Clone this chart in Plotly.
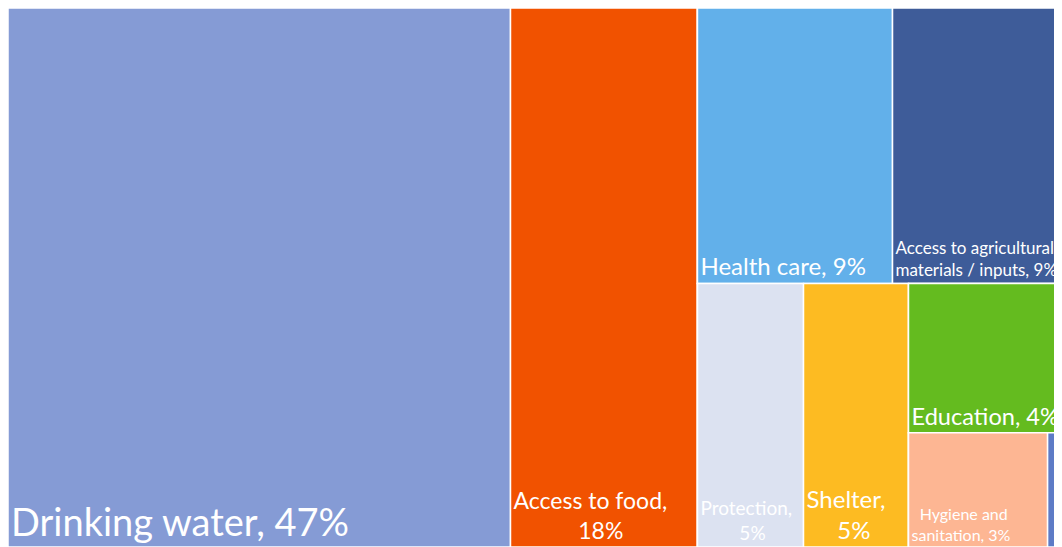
import plotly.graph_objects as go

# leaf categories and the share printed on each tile
categories = [
    "Drinking water",
    "Access to food",
    "Health care",
    "Access to agricultural materials / inputs",
    "Protection",
    "Shelter",
    "Education",
    "Hygiene and sanitation",
    "Other",
]
shares = [47, 18, 9, 9, 5, 5, 4, 3, None]
values = [47.68, 17.74, 9.46, 8.22, 4.92, 4.87, 4.03, 2.80, 0.29]
parents = ["root", "root", "top", "top", "bottom", "bottom", "g3", "g4", "g4"]

# grouping nodes that reproduce the Excel tiling
group_ids = ["root", "rest", "top", "bottom", "g3", "g4"]
group_parents = ["", "root", "rest", "rest", "bottom", "g3"]

# drawing order of every node (children are laid out in this order)
order = ["root", "Drinking water", "Access to food", "rest",
         "top", "Health care", "Access to agricultural materials / inputs",
         "bottom", "Protection", "Shelter",
         "g3", "Education", "g4", "Hygiene and sanitation", "Other"]

colors = ["#859BD5", "#F15200", "#62B0EA", "#3E5C99", "#DCE2F1",
          "#FDBB22", "#64BB1F", "#FDB693", "#5D7BC6"]
nb = "\u00a0"
label_text = [
    "Drinking water, 47%",
    "Access to food,<br>" + nb * 11 + "18%",
    "Health care, 9%",
    "Access to agricultural<br>materials / inputs, 9%",
    "Protection,<br>" + nb * 8 + "5%",
    "Shelter,<br>" + nb * 5 + "5%",
    "Education, 4%",
    nb * 2 + "Hygiene and<br>sanitation, 3%",
    "",
]
font_sizes = [38, 23, 24, 17, 19, 24, 24, 16, 10]


def subtotal(node):
    tot = 0.0
    for i, p in enumerate(parents):
        if p == node:
            tot += values[i]
    for j, p in enumerate(group_parents):
        if p == node:
            tot += subtotal(group_ids[j])
    return tot


node = {}
for g, p in zip(group_ids, group_parents):
    node[g] = dict(label="", parent=p, value=subtotal(g), text="",
                   color="#FFFFFF", size=10)
for i, c in enumerate(categories):
    node[c] = dict(label=c, parent=parents[i], value=values[i],
                   text=label_text[i], color=colors[i], size=font_sizes[i])

fig = go.Figure(go.Treemap(
    ids=order,
    labels=[node[k]["label"] for k in order],
    parents=[node[k]["parent"] for k in order],
    values=[node[k]["value"] for k in order],
    text=[node[k]["text"] for k in order],
    branchvalues="total",
    sort=False,
    textinfo="text",
    texttemplate="%{text}",
    textposition="bottom left",
    textfont=dict(family="Lato", size=[node[k]["size"] for k in order],
                  color="white"),
    marker=dict(
        colors=[node[k]["color"] for k in order],
        line=dict(color="white", width=1.5),
        pad=dict(t=0, l=0, r=0, b=0),
        depthfade=False,
    ),
    tiling=dict(packing="slice-dice", pad=0),
    pathbar=dict(visible=False),
    hoverinfo="label+value",
))

# the page body adds an 8px offset, so the figure fills the rest
fig.update_layout(
    width=1054,
    height=539,
    margin=dict(l=0, t=0, r=0, b=0),
    paper_bgcolor="white",
    font=dict(family="Lato"),
    showlegend=False,
)

fig.write_html("out.html")
